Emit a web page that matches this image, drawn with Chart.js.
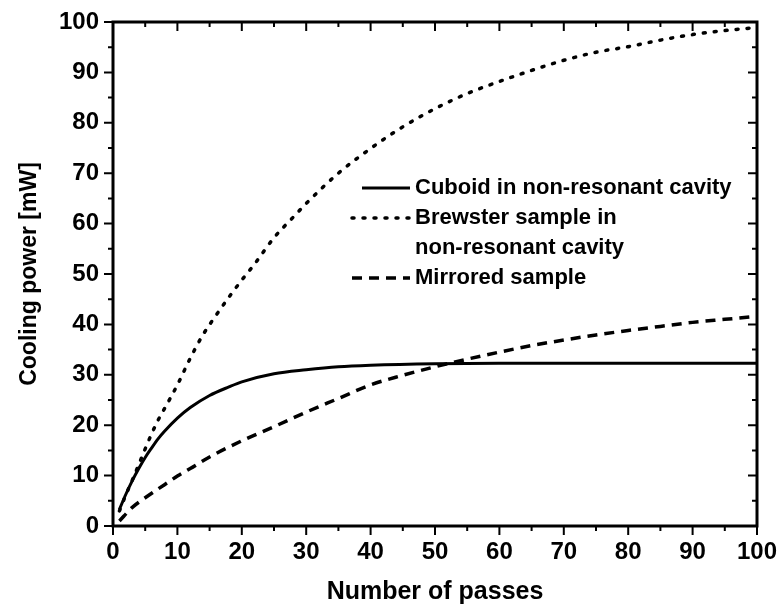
<!DOCTYPE html>
<html>
<head>
<meta charset="utf-8">
<script src="https://cdn.jsdelivr.net/npm/chart.js@4.4.1/dist/chart.umd.min.js"></script>
<style>
    html, body { margin: 0; padding: 0; background: #fff; }
</style>
</head>
<body>
<canvas id="coolingChart" width="782" height="607"></canvas>
<script>
// values
const cuboidPasses = [1, 2, 3, 4, 5, 6, 7, 8, 10, 12, 15, 18, 20, 25, 30, 35, 40, 50, 60, 70, 80, 90, 100];
const cuboidPower = [3.3, 6.3, 9.0, 11.4, 13.6, 15.5, 17.3, 18.8, 21.4, 23.5, 25.9, 27.6, 28.6, 30.2, 31.0, 31.6, 31.9, 32.2, 32.3, 32.3, 32.3, 32.3, 32.3];

const brewsterPasses = [1, 2, 3, 4, 5, 6, 7, 8, 10, 12, 14, 16, 18, 20, 22, 25, 28, 30, 35, 40, 45, 50, 55, 60, 65, 70, 75, 80, 85, 90, 95, 100];
const brewsterPower = [3.0, 6.2, 9.1, 12.2, 15.3, 18.3, 21.0, 23.3, 28.0, 33.3, 38.0, 41.8, 45.4, 48.8, 52.0, 57.2, 61.3, 64.0, 70.0, 74.9, 79.2, 82.8, 85.8, 88.2, 90.4, 92.4, 94.0, 95.1, 96.4, 97.5, 98.3, 98.9];

const mirroredPasses = [1, 3, 5, 8, 10, 12, 15, 20, 25, 30, 35, 40, 45, 50, 55, 60, 65, 70, 75, 80, 85, 90, 95, 100];
const mirroredPower = [1.0, 3.7, 5.6, 8.2, 9.9, 11.4, 13.7, 16.9, 19.7, 22.6, 25.3, 28.0, 29.9, 31.6, 33.1, 34.5, 35.8, 36.9, 37.9, 38.8, 39.6, 40.4, 41.0, 41.6];

const seriesLabels = [
    ['Cuboid in non-resonant cavity'],
    ['Brewster sample in', 'non-resonant cavity'],
    ['Mirrored sample']
];

const xTitle = 'Number of passes';
const yTitle = 'Cooling power [mW]';

const fontFamily = '"Liberation Sans", Arial, Helvetica, sans-serif';

function toPoints(xs, ys) {
    return xs.map((x, i) => ({ x: x, y: ys[i] }));
}

// box around the plot, ticks out on left/bottom, in on top/right
const frameAndTicks = {
    id: 'frameAndTicks',
    afterDraw: function (chart) {
        const { ctx, chartArea: a, scales: { x, y } } = chart;
        ctx.save();
        ctx.strokeStyle = '#000';
        ctx.lineWidth = 3;
        ctx.strokeRect(a.left, a.top, a.right - a.left, a.bottom - a.top);
        ctx.lineWidth = 2;
        ctx.beginPath();
        for (let v = 0; v <= 100; v += 5) {
            const len = v % 10 === 0 ? 9 : 5;
            const px = x.getPixelForValue(v);
            const py = y.getPixelForValue(v);
            ctx.moveTo(px, a.bottom); ctx.lineTo(px, a.bottom + len);
            ctx.moveTo(px, a.top); ctx.lineTo(px, a.top + len);
            ctx.moveTo(a.left, py); ctx.lineTo(a.left - len, py);
            ctx.moveTo(a.right, py); ctx.lineTo(a.right - len, py);
        }
        ctx.stroke();
        ctx.restore();
    }
};

// legend sitting inside the plot
const insideLegend = {
    id: 'insideLegend',
    afterDatasetsDraw: function (chart) {
        const { ctx, chartArea: a } = chart;
        const lineX1 = a.left + 297;
        const textX = a.left + 302;
        let rowY = a.top + 166;
        const rowStep = 30;

        ctx.save();
        ctx.font = 'bold 22px ' + fontFamily;
        ctx.fillStyle = '#000';
        ctx.textBaseline = 'middle';
        chart.data.datasets.forEach(function (ds, i) {
            const lineX0 = a.left + (i === 0 ? 249 : 239);
            ctx.beginPath();
            ctx.strokeStyle = '#000';
            ctx.lineWidth = ds.borderWidth;
            ctx.lineCap = ds.borderCapStyle || 'butt';
            ctx.setLineDash(ds.borderDash || []);
            ctx.moveTo(lineX0, rowY);
            ctx.lineTo(lineX1, rowY);
            ctx.stroke();
            seriesLabels[i].forEach(function (line) {
                ctx.fillText(line, textX, rowY);
                rowY += rowStep;
            });
        });
        ctx.restore();
    }
};

const ctx = document.getElementById('coolingChart').getContext('2d');
new Chart(ctx, {
    type: 'line',
    data: {
        datasets: [
            {
                label: seriesLabels[0].join(' '),
                data: toPoints(cuboidPasses, cuboidPower),
                borderColor: '#000',
                borderWidth: 3,
                borderDash: [],
                pointRadius: 0,
                cubicInterpolationMode: 'monotone',
                fill: false
            },
            {
                label: seriesLabels[1].join(' '),
                data: toPoints(brewsterPasses, brewsterPower),
                borderColor: '#000',
                borderWidth: 3.5,
                borderDash: [2, 9],
                borderCapStyle: 'round',
                pointRadius: 0,
                cubicInterpolationMode: 'monotone',
                fill: false
            },
            {
                label: seriesLabels[2].join(' '),
                data: toPoints(mirroredPasses, mirroredPower),
                borderColor: '#000',
                borderWidth: 3.5,
                borderDash: [10, 7],
                pointRadius: 0,
                cubicInterpolationMode: 'monotone',
                fill: false
            }
        ]
    },
    options: {
        responsive: false,
        animation: false,
        layout: { padding: { top: 22, right: 25, bottom: 0, left: 0 } },
        plugins: {
            legend: { display: false },
            tooltip: { enabled: false }
        },
        scales: {
            x: {
                type: 'linear',
                min: 0,
                max: 100,
                grid: { display: false, drawTicks: false },
                border: { display: false },
                ticks: {
                    stepSize: 10,
                    color: '#000',
                    padding: 12,
                    maxRotation: 0,
                    font: { family: fontFamily, size: 24, weight: 'bold' }
                },
                title: {
                    display: true,
                    text: xTitle,
                    color: '#000',
                    padding: { top: 0, bottom: 0 },
                    font: { family: fontFamily, size: 25, weight: 'bold' }
                },
                afterFit: function (scale) {
                    scale.height = 81;
                    scale.paddingLeft = 0;
                    scale.paddingRight = 0;
                }
            },
            y: {
                min: 0,
                max: 100,
                grid: { display: false, drawTicks: false },
                border: { display: false },
                ticks: {
                    stepSize: 10,
                    color: '#000',
                    padding: 14,
                    font: { family: fontFamily, size: 24, weight: 'bold' }
                },
                title: {
                    display: true,
                    text: yTitle,
                    color: '#000',
                    padding: { top: 16, bottom: 0 },
                    font: { family: fontFamily, size: 23, weight: 'bold' }
                },
                afterFit: function (scale) {
                    scale.width = 113;
                    scale.paddingTop = 0;
                    scale.paddingBottom = 0;
                }
            }
        }
    },
    plugins: [frameAndTicks, insideLegend]
});
</script>
</body>
</html>
